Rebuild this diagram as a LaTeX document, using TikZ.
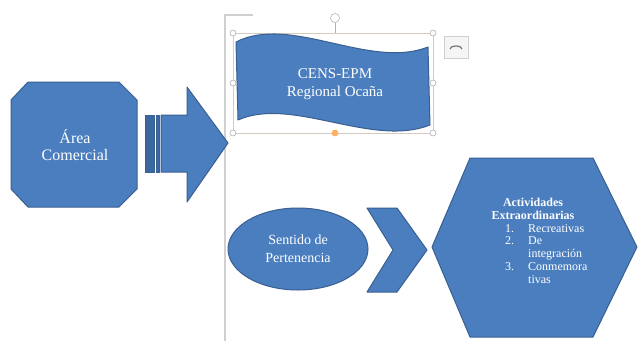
\documentclass[tikz,border=0pt]{standalone}
\usepackage{fontspec}
\setmainfont{Liberation Serif}
\usetikzlibrary{shapes.geometric}
\definecolor{wordblue}{RGB}{74,126,191}
\definecolor{wordedge}{RGB}{58,96,145}
\definecolor{stripeblue}{RGB}{60,104,160}
\definecolor{framegray}{RGB}{208,208,208}
\definecolor{selgray}{RGB}{214,204,190}
\begin{document}
\begin{tikzpicture}[x=1pt, y=-1pt,
  blueshape/.style={fill=wordblue, draw=wordedge, line width=1pt, line join=round},
  boxtext/.style={text=white, align=center},
  handle/.style={circle, fill=white, draw=gray!70, line width=0.5pt, inner sep=0pt, minimum size=6pt}]
\useasboundingbox[fill=white] (0,0) rectangle (641,341);
\draw[framegray, line width=1.5pt] (253,15) -- (225,15) -- (225,341);
\draw[blueshape] (28,82) -- (119,82) -- (137,100) -- (137,189) -- (119,207) -- (28,207) -- (11,189) -- (11,100) -- cycle;
\node[boxtext, font=\fontsize{16}{17}\selectfont] (area) at (75,145) {Área\\Comercial};
\draw[blueshape, fill=stripeblue] (145,115) rectangle (154,172);
\draw[blueshape, fill=stripeblue] (156,115) rectangle (159,172);
\draw[blueshape] (161,115) -- (187,115) -- (187,87) -- (228,143) -- (187,202) -- (187,172) -- (161,172) -- cycle;
\draw[selgray, line width=0.8pt] (233,33) rectangle (433,133);
\draw[blueshape] (236,42) .. controls (290,14) and (370,70) .. (428,47) -- (430,125) .. controls (372,148) and (292,96) .. (238,120) -- cycle;
\node[boxtext, font=\fontsize{15}{18}\selectfont] (cens) at (335,84) {CENS-EPM\\Regional Ocaña};
\draw[gray!60, line width=0.6pt] (335,33) -- (335,23);
\node[handle, minimum size=9pt] (rot) at (335,18) {};
\node[handle] (h1) at (233,33) {};
\node[handle] (h2) at (433,33) {};
\node[handle] (h3) at (233,133) {};
\node[handle] (h4) at (433,133) {};
\node[handle] (h5) at (233,83) {};
\node[handle] (h6) at (433,83) {};
\node[handle, fill=orange!60, draw=orange!70] (h7) at (335,133) {};
\draw[framegray, fill=gray!8, line width=0.6pt] (444,36) rectangle (468,58);
\draw[gray!90!black, line width=1.2pt] (450,49) arc (180:360:6 and 3);
\node[ellipse, blueshape, minimum width=140pt, minimum height=82pt, boxtext, font=\fontsize{14}{18}\selectfont] (sentido) at (298,249) {Sentido de\\Pertenencia};
\draw[blueshape] (367,208) -- (397,208) -- (427,250) -- (397,292) -- (367,292) -- (393,250) -- cycle;
\draw[blueshape] (432,247) -- (470,158) -- (593,158) -- (637,247) -- (593,337) -- (470,337) -- cycle;
\node[boxtext, font=\bfseries\fontsize{12}{12.8}\selectfont] (activ) at (533,209) {Actividades\\Extraordinarias};
\node[text=white, anchor=north west, inner sep=0pt, font=\fontsize{12}{12.8}\selectfont] (actlist) at (505,223)
  {\begin{tabular}{@{}l@{\hspace{14pt}}l@{}}1. & Recreativas\\2. & De\\ & integración\\3. & Conmemora\\ & tivas\end{tabular}};
\end{tikzpicture}
\end{document}
